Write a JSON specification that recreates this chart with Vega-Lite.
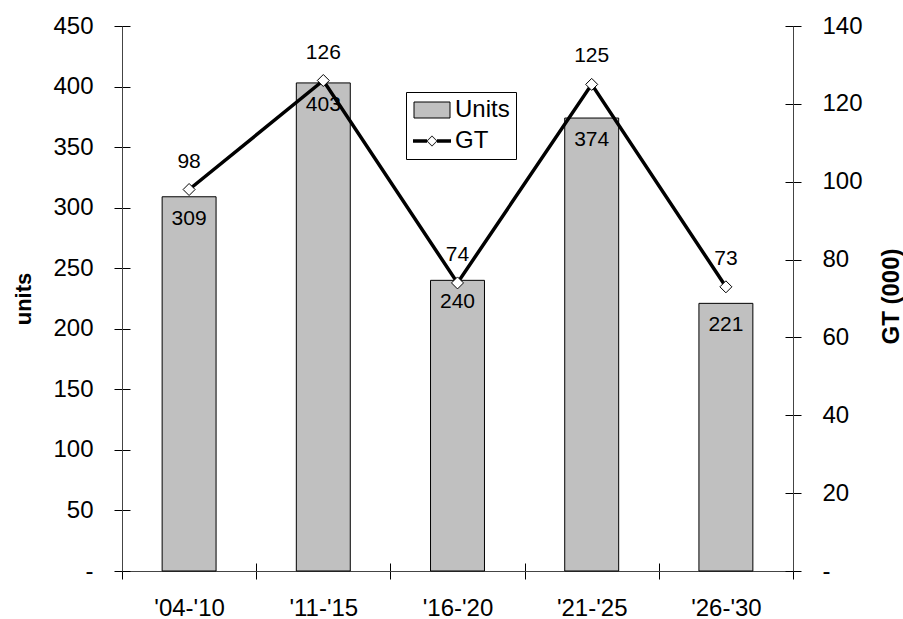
{
  "$schema": "https://vega.github.io/schema/vega-lite/v6.json",
  "width": 671,
  "height": 545,
  "autosize": {"type": "none"},
  "padding": {"left": 122, "top": 26, "right": 110, "bottom": 48},
  "background": "white",
  "config": {
    "view": {"stroke": null},
    "font": "Liberation Sans",
    "axis": {"grid": false, "labelFont": "Liberation Sans", "titleFont": "Liberation Sans", "labelColor": "black", "titleColor": "black", "tickColor": "black", "domainColor": "#444444", "tickSize": 8, "labelFontSize": 24}
  },
  "data": {
    "values": [
      {"period": "'04-'10", "units": 309, "gt": 98},
      {"period": "'11-'15", "units": 403, "gt": 126},
      {"period": "'16-'20", "units": 240, "gt": 74},
      {"period": "'21-'25", "units": 374, "gt": 125},
      {"period": "'26-'30", "units": 221, "gt": 73}
    ]
  },
  "encoding": {
    "x": {
      "field": "period",
      "type": "nominal",
      "sort": null,
      "scale": {"paddingInner": 0, "paddingOuter": 0},
      "axis": {
        "title": null,
        "labelAngle": 0,
        "tickBand": "extent",
        "labelPadding": 17,
        "encoding": {"ticks": {"y": {"value": -8}}}
      }
    }
  },
  "layer": [
    {
      "encoding": {
        "y": {
          "field": "units",
          "type": "quantitative",
          "scale": {"domain": [0, 450], "nice": false, "zero": true},
          "axis": {
            "orient": "left",
            "values": [0, 50, 100, 150, 200, 250, 300, 350, 400, 450],
            "labelExpr": "datum.value === 0 ? '-' : datum.label",
            "labelPadding": 21,
            "title": "units",
            "titleFontSize": 22,
            "titleFontWeight": "bold",
            "titleAngle": 270,
            "titleBaseline": "middle",
            "titleAlign": "center",
            "titleX": -99,
            "encoding": {"ticks": {"x": {"value": 8}}}
          }
        }
      },
      "layer": [
        {
          "mark": {"type": "bar", "stroke": "black", "strokeWidth": 1, "width": {"band": 0.402}},
          "encoding": {
            "color": {
              "datum": "Units",
              "scale": {"domain": ["Units", "GT"], "range": ["#c0c0c0", "#000000"]},
              "legend": {
                "title": null,
                "orient": "none",
                "legendX": 284,
                "legendY": 66,
                "padding": 6,
                "strokeColor": "black",
                "fillColor": "white",
                "labelFont": "Liberation Sans",
                "labelFontSize": 24,
                "labelColor": "black",
                "symbolSize": 400,
                "symbolOffset": 8,
                "labelOffset": 11,
                "rowPadding": 7,
                "encoding": {
                  "symbols": {
                    "shape": {"value": {"expr": "datum.value === 'Units' ? 'M-1.8,-0.8H1.8V0.8H-1.8Z' : 'M-1.9,-0.17H-0.5V0.17H-1.9Z M0.5,-0.17H1.9V0.17H0.5Z M0,-0.55L0.55,0L0,0.55L-0.55,0Z M0,-0.45L-0.45,0L0,0.45L0.45,0Z'"}},
                    "fill": {"value": {"expr": "datum.value === 'Units' ? '#c0c0c0' : '#000000'"}},
                    "fillOpacity": {"value": 1},
                    "stroke": {"value": {"expr": "datum.value === 'Units' ? '#000000' : 'transparent'"}},
                    "strokeWidth": {"value": {"expr": "datum.value === 'Units' ? 1 : 0"}}
                  }
                }
              }
            }
          }
        },
        {
          "mark": {"type": "text", "baseline": "middle", "align": "center", "dy": 22, "fontSize": 21, "font": "Liberation Sans", "color": "black"},
          "encoding": {"text": {"field": "units", "type": "quantitative"}}
        }
      ]
    },
    {
      "encoding": {
        "y": {
          "field": "gt",
          "type": "quantitative",
          "scale": {"domain": [0, 140], "nice": false, "zero": true},
          "axis": {
            "orient": "right",
            "values": [0, 20, 40, 60, 80, 100, 120, 140],
            "labelExpr": "datum.value === 0 ? '-' : datum.label",
            "labelPadding": 21,
            "title": "GT (000)",
            "titleFontSize": 24,
            "titleFontWeight": "bold",
            "titleAngle": 270,
            "titleBaseline": "middle",
            "titleAlign": "center",
            "titleX": 98,
            "titleY": 270,
            "encoding": {"ticks": {"x": {"value": -8}}}
          }
        }
      },
      "layer": [
        {
          "mark": {"type": "line", "color": "black", "strokeWidth": 3.5},
          "encoding": {}
        },
        {
          "mark": {"type": "point", "shape": "diamond", "size": 144, "filled": true, "fill": "white", "stroke": "black", "strokeWidth": 1, "opacity": 1},
          "encoding": {}
        },
        {
          "mark": {"type": "text", "baseline": "middle", "align": "center", "dy": -28, "fontSize": 21, "font": "Liberation Sans", "color": "black"},
          "encoding": {"text": {"field": "gt", "type": "quantitative"}}
        }
      ]
    }
  ],
  "resolve": {"scale": {"y": "independent"}}
}
